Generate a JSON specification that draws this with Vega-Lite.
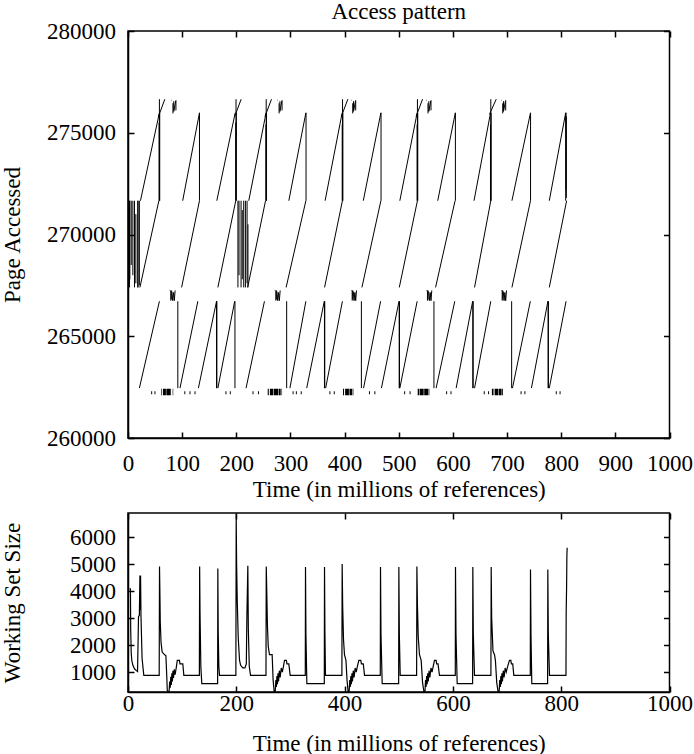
{
"$schema": "https://vega.github.io/schema/vega-lite/v6.json",
"background": "white",
"padding": {"left": 0, "right": 0, "top": 0, "bottom": 0},
"bounds": "flush",
"spacing": 75,
"config": {
 "font": "Liberation Serif",
 "view": {"stroke": "black", "strokeWidth": 1.5},
 "axis": {"domainColor": "black", "domainWidth": 1.5, "tickColor": "black", "tickWidth": 1.5, "tickSize": -6, "labelFont": "Liberation Serif", "labelFontSize": 23, "labelColor": "black", "titleFont": "Liberation Serif", "titleFontSize": 23, "titleFontWeight": "normal", "titleColor": "black", "grid": false, "labelFlush": false, "labelOverlap": false},
 "title": {"font": "Liberation Serif", "fontSize": 23, "fontWeight": "normal", "color": "black"}
},
"datasets": {
 "segs": [
{"t0":1,"p0":267400,"t1":1,"p1":271660},
{"t0":2.8,"p0":267400,"t1":2.8,"p1":271660},
{"t0":3.4,"p0":267800,"t1":3.4,"p1":271660},
{"t0":6,"p0":268500,"t1":6,"p1":271660},
{"t0":9,"p0":268000,"t1":9,"p1":271660},
{"t0":12,"p0":267400,"t1":12,"p1":271660},
{"t0":14.5,"p0":267600,"t1":14.5,"p1":271000},
{"t0":18,"p0":267400,"t1":18,"p1":271660},
{"t0":18.6,"p0":267400,"t1":18.6,"p1":271660},
{"t0":21,"p0":267500,"t1":21,"p1":271660},
{"t0":23,"p0":271660,"t1":58,"p1":275980},
{"t0":22,"p0":267400,"t1":57,"p1":271660},
{"t0":58,"p0":276650,"t1":58,"p1":271660},
{"t0":58.6,"p0":275980,"t1":58.6,"p1":271660},
{"t0":57.4,"p0":275500,"t1":57.4,"p1":271660},
{"t0":56,"p0":275780,"t1":68,"p1":276650},
{"t0":21,"p0":262450,"t1":58,"p1":266720},
{"t0":80,"p0":276600,"t1":80.8,"p1":276600},
{"t0":83,"p0":276450,"t1":83,"p1":275950},
{"t0":84.5,"p0":276550,"t1":84.5,"p1":276050},
{"t0":84.5,"p0":276050,"t1":88,"p1":276550},
{"t0":88.5,"p0":276600,"t1":88.5,"p1":276100},
{"t0":77,"p0":267250,"t1":77.8,"p1":267250},
{"t0":79,"p0":267250,"t1":79,"p1":266750},
{"t0":80,"p0":267250,"t1":80,"p1":266800},
{"t0":81,"p0":267200,"t1":82.5,"p1":266750},
{"t0":82.5,"p0":266750,"t1":84,"p1":267150},
{"t0":84,"p0":267150,"t1":85.5,"p1":266750},
{"t0":85.5,"p0":266750,"t1":87,"p1":267250},
{"t0":92,"p0":262450,"t1":92,"p1":266720},
{"t0":101,"p0":271660,"t1":132,"p1":275980},
{"t0":99,"p0":267400,"t1":132,"p1":271660},
{"t0":132,"p0":275980,"t1":132,"p1":271660},
{"t0":96,"p0":262450,"t1":129,"p1":266720},
{"t0":130,"p0":262450,"t1":163.5,"p1":266720},
{"t0":163.5,"p0":262450,"t1":163.5,"p1":266720},
{"t0":164.1,"p0":262450,"t1":164.1,"p1":266720},
{"t0":164,"p0":271660,"t1":198,"p1":275980},
{"t0":166,"p0":267400,"t1":199,"p1":271660},
{"t0":199.5,"p0":276650,"t1":199.5,"p1":271660},
{"t0":200.1,"p0":275980,"t1":200.1,"p1":271660},
{"t0":198.9,"p0":275500,"t1":198.9,"p1":271660},
{"t0":197,"p0":275800,"t1":209,"p1":276650},
{"t0":166,"p0":262450,"t1":197,"p1":266720},
{"t0":197.5,"p0":262450,"t1":197.5,"p1":266720},
{"t0":203,"p0":267400,"t1":203,"p1":271660},
{"t0":205,"p0":268000,"t1":205,"p1":271660},
{"t0":208.8,"p0":267400,"t1":208.8,"p1":271660},
{"t0":211,"p0":267800,"t1":211,"p1":271200},
{"t0":213.7,"p0":267400,"t1":213.7,"p1":271660},
{"t0":216.8,"p0":267400,"t1":216.8,"p1":271660},
{"t0":219.9,"p0":267600,"t1":219.9,"p1":271660},
{"t0":221.5,"p0":267400,"t1":221.5,"p1":270500},
{"t0":223,"p0":271660,"t1":255,"p1":275980},
{"t0":221,"p0":267400,"t1":254,"p1":271660},
{"t0":255.2,"p0":276650,"t1":255.2,"p1":271660},
{"t0":255.8,"p0":275980,"t1":255.8,"p1":271660},
{"t0":254.6,"p0":275400,"t1":254.6,"p1":271660},
{"t0":253,"p0":275800,"t1":265,"p1":276650},
{"t0":218,"p0":262450,"t1":252,"p1":266720},
{"t0":276,"p0":276600,"t1":276.8,"p1":276600},
{"t0":279,"p0":276450,"t1":279,"p1":275950},
{"t0":280.5,"p0":276550,"t1":280.5,"p1":276050},
{"t0":280.5,"p0":276050,"t1":284,"p1":276550},
{"t0":284.5,"p0":276600,"t1":284.5,"p1":276100},
{"t0":271,"p0":267250,"t1":271.8,"p1":267250},
{"t0":273,"p0":267250,"t1":273,"p1":266750},
{"t0":274,"p0":267250,"t1":274,"p1":266800},
{"t0":275,"p0":267200,"t1":276.5,"p1":266750},
{"t0":276.5,"p0":266750,"t1":278,"p1":267150},
{"t0":278,"p0":267150,"t1":279.5,"p1":266750},
{"t0":279.5,"p0":266750,"t1":281,"p1":267250},
{"t0":293,"p0":262450,"t1":293,"p1":266720},
{"t0":297,"p0":271660,"t1":328.5,"p1":275980},
{"t0":292,"p0":267400,"t1":328.5,"p1":271660},
{"t0":328.8,"p0":275980,"t1":328.8,"p1":271660},
{"t0":299,"p0":262450,"t1":328.5,"p1":266720},
{"t0":330,"p0":262450,"t1":362.5,"p1":266720},
{"t0":362.8,"p0":262450,"t1":362.8,"p1":266720},
{"t0":363.4,"p0":262450,"t1":363.4,"p1":266720},
{"t0":364,"p0":271660,"t1":395.5,"p1":275980},
{"t0":363,"p0":267400,"t1":396,"p1":271660},
{"t0":396.2,"p0":276650,"t1":396.2,"p1":271660},
{"t0":396.8,"p0":275980,"t1":396.8,"p1":271660},
{"t0":395.6,"p0":275400,"t1":395.6,"p1":271660},
{"t0":394,"p0":275800,"t1":406,"p1":276650},
{"t0":365,"p0":262450,"t1":396,"p1":266720},
{"t0":412,"p0":276600,"t1":412.8,"p1":276600},
{"t0":415,"p0":276450,"t1":415,"p1":275950},
{"t0":416.5,"p0":276550,"t1":416.5,"p1":276050},
{"t0":416.5,"p0":276050,"t1":420,"p1":276550},
{"t0":420.5,"p0":276600,"t1":420.5,"p1":276100},
{"t0":412,"p0":267250,"t1":412.8,"p1":267250},
{"t0":414,"p0":267250,"t1":414,"p1":266750},
{"t0":415,"p0":267250,"t1":415,"p1":266800},
{"t0":416,"p0":267200,"t1":417.5,"p1":266750},
{"t0":417.5,"p0":266750,"t1":419,"p1":267150},
{"t0":419,"p0":267150,"t1":420.5,"p1":266750},
{"t0":420.5,"p0":266750,"t1":422,"p1":267250},
{"t0":431,"p0":262450,"t1":431,"p1":266720},
{"t0":434.5,"p0":271660,"t1":467,"p1":275980},
{"t0":432,"p0":267400,"t1":467,"p1":271660},
{"t0":467.3,"p0":275980,"t1":467.3,"p1":271660},
{"t0":435,"p0":262450,"t1":466.5,"p1":266720},
{"t0":468,"p0":262450,"t1":500.5,"p1":266720},
{"t0":500.8,"p0":262450,"t1":500.8,"p1":266720},
{"t0":501.4,"p0":262450,"t1":501.4,"p1":266720},
{"t0":502,"p0":271660,"t1":534,"p1":275980},
{"t0":501,"p0":267400,"t1":534.5,"p1":271660},
{"t0":534.5,"p0":276650,"t1":534.5,"p1":271660},
{"t0":535.1,"p0":275980,"t1":535.1,"p1":271660},
{"t0":533.9,"p0":275400,"t1":533.9,"p1":271660},
{"t0":532,"p0":275800,"t1":544,"p1":276650},
{"t0":502,"p0":262450,"t1":534,"p1":266720},
{"t0":551,"p0":276600,"t1":551.8,"p1":276600},
{"t0":554,"p0":276450,"t1":554,"p1":275950},
{"t0":555.5,"p0":276550,"t1":555.5,"p1":276050},
{"t0":555.5,"p0":276050,"t1":559,"p1":276550},
{"t0":559.5,"p0":276600,"t1":559.5,"p1":276100},
{"t0":551,"p0":267250,"t1":551.8,"p1":267250},
{"t0":553,"p0":267250,"t1":553,"p1":266750},
{"t0":554,"p0":267250,"t1":554,"p1":266800},
{"t0":555,"p0":267200,"t1":556.5,"p1":266750},
{"t0":556.5,"p0":266750,"t1":558,"p1":267150},
{"t0":558,"p0":267150,"t1":559.5,"p1":266750},
{"t0":559.5,"p0":266750,"t1":561,"p1":267250},
{"t0":565,"p0":262450,"t1":565,"p1":266720},
{"t0":572,"p0":271660,"t1":604.5,"p1":275980},
{"t0":568,"p0":267400,"t1":604,"p1":271660},
{"t0":604.6,"p0":275980,"t1":604.6,"p1":271660},
{"t0":569,"p0":262450,"t1":603.5,"p1":266720},
{"t0":606,"p0":262450,"t1":636.5,"p1":266720},
{"t0":636.8,"p0":262450,"t1":636.8,"p1":266720},
{"t0":637.4,"p0":262450,"t1":637.4,"p1":266720},
{"t0":639,"p0":271660,"t1":669.5,"p1":275980},
{"t0":640,"p0":267400,"t1":670,"p1":271660},
{"t0":670,"p0":276650,"t1":670,"p1":271660},
{"t0":670.6,"p0":275980,"t1":670.6,"p1":271660},
{"t0":669.4,"p0":275400,"t1":669.4,"p1":271660},
{"t0":667.5,"p0":275900,"t1":680,"p1":276650},
{"t0":640,"p0":262450,"t1":670,"p1":266720},
{"t0":689,"p0":276600,"t1":689.8,"p1":276600},
{"t0":692,"p0":276450,"t1":692,"p1":275950},
{"t0":693.5,"p0":276550,"t1":693.5,"p1":276050},
{"t0":693.5,"p0":276050,"t1":697,"p1":276550},
{"t0":697.5,"p0":276600,"t1":697.5,"p1":276100},
{"t0":689,"p0":267250,"t1":689.8,"p1":267250},
{"t0":691,"p0":267250,"t1":691,"p1":266750},
{"t0":692,"p0":267250,"t1":692,"p1":266800},
{"t0":693,"p0":267200,"t1":694.5,"p1":266750},
{"t0":694.5,"p0":266750,"t1":696,"p1":267150},
{"t0":696,"p0":267150,"t1":697.5,"p1":266750},
{"t0":697.5,"p0":266750,"t1":699,"p1":267250},
{"t0":708.5,"p0":262450,"t1":708.5,"p1":266720},
{"t0":709,"p0":271660,"t1":743.3,"p1":275980},
{"t0":709,"p0":267400,"t1":743.3,"p1":271660},
{"t0":743.4,"p0":275980,"t1":743.4,"p1":271660},
{"t0":710,"p0":262450,"t1":743,"p1":266720},
{"t0":745,"p0":262450,"t1":775.5,"p1":266720},
{"t0":775.8,"p0":262450,"t1":775.8,"p1":266720},
{"t0":776.4,"p0":262450,"t1":776.4,"p1":266720},
{"t0":778,"p0":271660,"t1":808.3,"p1":275980},
{"t0":778,"p0":267400,"t1":810,"p1":271660},
{"t0":808.3,"p0":275980,"t1":808.3,"p1":271660},
{"t0":808.9,"p0":275980,"t1":808.9,"p1":272200},
{"t0":809.5,"p0":275800,"t1":809.5,"p1":271800},
{"t0":778,"p0":262450,"t1":809,"p1":266720}
 ],
 "dots": [
{"t0":42.8,"t1":44.6,"p0":262150,"p1":262300},
{"t0":48.9,"t1":50.7,"p0":262150,"p1":262300},
{"t0":104,"t1":105.8,"p0":262150,"p1":262300},
{"t0":113.6,"t1":115.4,"p0":262150,"p1":262300},
{"t0":122.8,"t1":124.6,"p0":262150,"p1":262300},
{"t0":180,"t1":181.8,"p0":262150,"p1":262300},
{"t0":188,"t1":189.8,"p0":262150,"p1":262300},
{"t0":230,"t1":231.8,"p0":262150,"p1":262300},
{"t0":240,"t1":241.8,"p0":262150,"p1":262300},
{"t0":304,"t1":305.8,"p0":262150,"p1":262300},
{"t0":310,"t1":311.8,"p0":262150,"p1":262300},
{"t0":319,"t1":320.8,"p0":262150,"p1":262300},
{"t0":372,"t1":373.8,"p0":262150,"p1":262300},
{"t0":380,"t1":381.8,"p0":262150,"p1":262300},
{"t0":445,"t1":446.8,"p0":262150,"p1":262300},
{"t0":455,"t1":456.8,"p0":262150,"p1":262300},
{"t0":510,"t1":511.8,"p0":262150,"p1":262300},
{"t0":520,"t1":521.8,"p0":262150,"p1":262300},
{"t0":587.5,"t1":589.3,"p0":262150,"p1":262300},
{"t0":595.6,"t1":597.4,"p0":262150,"p1":262300},
{"t0":657,"t1":658.8,"p0":262150,"p1":262300},
{"t0":665,"t1":666.8,"p0":262150,"p1":262300},
{"t0":725,"t1":726.8,"p0":262150,"p1":262300},
{"t0":732,"t1":733.8,"p0":262150,"p1":262300},
{"t0":790,"t1":791.8,"p0":262150,"p1":262300},
{"t0":797,"t1":798.8,"p0":262150,"p1":262300},
{"t0":61,"t1":62.2,"p0":262100,"p1":262420},
{"t0":64.5,"t1":70,"p0":262100,"p1":262420},
{"t0":70.8,"t1":79,"p0":262100,"p1":262420},
{"t0":82.5,"t1":83.5,"p0":262100,"p1":262420},
{"t0":258,"t1":260,"p0":262100,"p1":262420},
{"t0":262,"t1":268,"p0":262100,"p1":262420},
{"t0":269,"t1":277,"p0":262100,"p1":262420},
{"t0":278,"t1":282,"p0":262100,"p1":262420},
{"t0":283.5,"t1":284.5,"p0":262100,"p1":262420},
{"t0":397,"t1":399,"p0":262100,"p1":262420},
{"t0":401,"t1":408,"p0":262100,"p1":262420},
{"t0":409,"t1":414,"p0":262100,"p1":262420},
{"t0":415,"t1":416.2,"p0":262100,"p1":262420},
{"t0":535,"t1":538,"p0":262100,"p1":262420},
{"t0":539,"t1":546,"p0":262100,"p1":262420},
{"t0":547,"t1":554,"p0":262100,"p1":262420},
{"t0":555,"t1":556.5,"p0":262100,"p1":262420},
{"t0":672,"t1":675,"p0":262100,"p1":262420},
{"t0":677,"t1":684,"p0":262100,"p1":262420},
{"t0":685,"t1":690,"p0":262100,"p1":262420},
{"t0":691,"t1":692.5,"p0":262100,"p1":262420}
 ],
 "ws": [
{"t":2.8,"ws":4080},{"t":4.5,"ws":4080},{"t":5.0,"ws":2540},{"t":6.0,"ws":1700},{"t":7.0,"ws":1430},{"t":9,"ws":1250},{"t":12,"ws":1120},{"t":15,"ws":1060},{"t":17.6,"ws":1020},{"t":18.5,"ws":2000},{"t":19.4,"ws":3050},{"t":21,"ws":3100},{"t":22,"ws":4578},{"t":22.6,"ws":3300},{"t":23.2,"ws":4578},{"t":24,"ws":3050},{"t":26,"ws":1500},{"t":29.2,"ws":875},
{"t":57.6,"ws":875},{"t":58.2,"ws":4911},{"t":58.8,"ws":4085},{"t":59.6,"ws":2850},{"t":61,"ws":2100},{"t":63,"ws":1750},{"t":66,"ws":1670},{"t":70,"ws":1600},{"t":71.5,"ws":900},{"t":72.5,"ws":320},{"t":74,"ws":270},{"t":76,"ws":300},{"t":77,"ws":650},{"t":78,"ws":420},{"t":79,"ws":820},{"t":80,"ws":520},{"t":81,"ws":950},{"t":82,"ws":650},{"t":83,"ws":1050},{"t":84,"ws":780},{"t":85.5,"ws":1100},{"t":87,"ws":900},{"t":89,"ws":1150},{"t":91,"ws":1430},{"t":95,"ws":1430},{"t":96,"ws":1300},{"t":101.2,"ws":1300},{"t":103.1,"ws":875},
{"t":131.8,"ws":875},{"t":132.3,"ws":4911},{"t":133,"ws":3200},{"t":134.5,"ws":1200},{"t":136.3,"ws":567},{"t":165.5,"ws":567},{"t":165.9,"ws":4830},{"t":166.6,"ws":2500},{"t":167.8,"ws":1200},{"t":169,"ws":875},
{"t":199.2,"ws":875},{"t":199.8,"ws":6862},{"t":200.6,"ws":5000},{"t":201.8,"ws":3600},{"t":203.5,"ws":2300},{"t":206,"ws":1430},{"t":208,"ws":1250},{"t":212,"ws":1150},{"t":216,"ws":1150},{"t":218.5,"ws":1300},{"t":219.5,"ws":3000},{"t":221.3,"ws":4940},{"t":222.2,"ws":2600},{"t":224,"ws":1200},{"t":226.3,"ws":875},
{"t":254.8,"ws":875},{"t":255.3,"ws":4911},{"t":256.2,"ws":4085},{"t":257.5,"ws":2700},{"t":259,"ws":1950},{"t":261.3,"ws":1641},{"t":266.2,"ws":1641},{"t":268,"ws":700},{"t":270,"ws":270},{"t":272,"ws":300},{"t":273,"ws":700},{"t":274,"ws":450},{"t":275,"ws":850},{"t":276,"ws":550},{"t":277,"ws":950},{"t":278,"ws":650},{"t":279.5,"ws":1050},{"t":281,"ws":800},{"t":283,"ws":1150},{"t":285,"ws":1000},{"t":287,"ws":1200},{"t":289,"ws":1430},{"t":292.5,"ws":1430},{"t":293.5,"ws":1300},{"t":297,"ws":1300},{"t":299.5,"ws":875},
{"t":327.4,"ws":875},{"t":327.8,"ws":4890},{"t":328.6,"ws":2400},{"t":330.3,"ws":567},{"t":362.5,"ws":567},{"t":362.9,"ws":4890},{"t":363.7,"ws":2400},{"t":364.7,"ws":875},
{"t":395.0,"ws":875},{"t":395.5,"ws":5000},{"t":396.5,"ws":3408},{"t":398,"ws":2200},{"t":399.8,"ws":1641},{"t":402.5,"ws":1430},{"t":404.5,"ws":700},{"t":406.5,"ws":270},{"t":408.5,"ws":300},{"t":409.5,"ws":700},{"t":410.5,"ws":450},{"t":411.5,"ws":850},{"t":412.5,"ws":550},{"t":413.5,"ws":950},{"t":414.5,"ws":650},{"t":416,"ws":1050},{"t":417.5,"ws":800},{"t":419.5,"ws":1150},{"t":421.5,"ws":1000},{"t":423.5,"ws":1200},{"t":426.3,"ws":1430},{"t":430,"ws":1430},{"t":431,"ws":1300},{"t":434.5,"ws":1300},{"t":436.8,"ws":875},
{"t":465.9,"ws":875},{"t":466.3,"ws":4890},{"t":467.2,"ws":2400},{"t":469.4,"ws":567},{"t":499.8,"ws":567},{"t":500.2,"ws":4890},{"t":501.1,"ws":2400},{"t":502.7,"ws":875},
{"t":533.0,"ws":875},{"t":533.5,"ws":4911},{"t":534.5,"ws":3500},{"t":536,"ws":2300},{"t":538.3,"ws":1641},{"t":541.4,"ws":1430},{"t":544,"ws":600},{"t":546.5,"ws":270},{"t":548.5,"ws":300},{"t":549.5,"ws":700},{"t":550.5,"ws":450},{"t":551.5,"ws":850},{"t":552.5,"ws":550},{"t":553.5,"ws":950},{"t":554.5,"ws":650},{"t":556,"ws":1050},{"t":557.5,"ws":800},{"t":559.5,"ws":1150},{"t":561.5,"ws":1000},{"t":563.5,"ws":1200},{"t":566,"ws":1430},{"t":569,"ws":1430},{"t":570,"ws":1300},{"t":572.5,"ws":1300},{"t":575.2,"ws":875},
{"t":604.4,"ws":875},{"t":604.8,"ws":4890},{"t":605.7,"ws":2400},{"t":607.9,"ws":567},{"t":636.4,"ws":567},{"t":636.8,"ws":4890},{"t":637.7,"ws":2400},{"t":639.9,"ws":875},
{"t":670.2,"ws":875},{"t":670.7,"ws":4890},{"t":671.6,"ws":3000},{"t":674,"ws":1780},{"t":676.8,"ws":1641},{"t":678.5,"ws":1430},{"t":681,"ws":600},{"t":683.5,"ws":270},{"t":685.5,"ws":300},{"t":686.5,"ws":700},{"t":687.5,"ws":450},{"t":688.5,"ws":850},{"t":689.5,"ws":550},{"t":690.5,"ws":950},{"t":691.5,"ws":650},{"t":693,"ws":1050},{"t":694.5,"ws":800},{"t":696.5,"ws":1150},{"t":698.5,"ws":1000},{"t":701,"ws":1200},{"t":704.5,"ws":1430},{"t":707,"ws":1430},{"t":708,"ws":1300},{"t":710.5,"ws":1300},{"t":712.5,"ws":875},
{"t":742.9,"ws":875},{"t":743.3,"ws":4800},{"t":744.2,"ws":2400},{"t":745.7,"ws":567},{"t":774.9,"ws":567},{"t":775.3,"ws":4800},{"t":776.2,"ws":2400},{"t":778.4,"ws":875},
{"t":808.8,"ws":875},{"t":809.2,"ws":3200},{"t":810,"ws":4200},{"t":810.5,"ws":5300},{"t":811,"ws":5600}
 ]
},
"vconcat": [
 {
  "width": 541.5,
  "height": 407,
  "title": {"text": "Access pattern", "frame": "group", "anchor": "middle", "offset": -27, "baseline": "bottom"},
  "layer": [
   {
    "data": {"name": "segs"},
    "mark": {"type": "rule", "color": "black", "strokeWidth": 1, "clip": true},
    "encoding": {
     "x": {"field": "t0", "type": "quantitative", "scale": {"domain": [0, 1000], "nice": false}, "axis": {"values": [0,100,200,300,400,500,600,700,800,900,1000], "format": "d", "title": "Time (in millions of references)", "labelPadding": 20, "titlePadding": 3}},
     "x2": {"field": "t1"},
     "y": {"field": "p0", "type": "quantitative", "scale": {"domain": [260000, 280000], "nice": false, "zero": false}, "axis": {"values": [260000,265000,270000,275000,280000], "format": "d", "title": "Page Accessed", "labelPadding": 18.5, "titlePadding": 22}},
     "y2": {"field": "p1"}
    }
   },
   {
    "data": {"name": "dots"},
    "mark": {"type": "rect", "color": "black", "clip": true},
    "encoding": {
     "x": {"field": "t0", "type": "quantitative", "axis": null},
     "x2": {"field": "t1"},
     "y": {"field": "p0", "type": "quantitative", "axis": null},
     "y2": {"field": "p1"}
    }
   },
   {
    "data": {"name": "segs"},
    "mark": {"type": "point", "opacity": 0},
    "encoding": {
     "x": {"field": "t0", "type": "quantitative", "axis": {"orient": "top", "labels": false, "title": null, "domain": false, "values": [0,100,200,300,400,500,600,700,800,900,1000]}},
     "y": {"field": "p0", "type": "quantitative", "axis": {"orient": "right", "labels": false, "title": null, "domain": false, "values": [260000,265000,270000,275000,280000]}}
    }
   }
  ],
  "resolve": {"axis": {"x": "independent", "y": "independent"}}
 },
 {
  "width": 541.5,
  "height": 179,
  "layer": [
   {
    "data": {"name": "ws"},
    "mark": {"type": "line", "color": "black", "strokeWidth": 1.2, "clip": true},
    "encoding": {
     "x": {"field": "t", "type": "quantitative", "scale": {"domain": [0, 1000], "nice": false}, "axis": {"values": [0,200,400,600,800,1000], "format": "d", "title": "Time (in millions of references)", "labelPadding": 6, "titlePadding": 17}},
     "y": {"field": "ws", "type": "quantitative", "scale": {"domain": [260, 6890], "nice": false, "zero": false}, "axis": {"values": [1000,2000,3000,4000,5000,6000], "format": "d", "title": "Working Set Size", "labelPadding": 18.5, "titlePadding": 45.5}}
    }
   },
   {
    "data": {"name": "ws"},
    "mark": {"type": "point", "opacity": 0},
    "encoding": {
     "x": {"field": "t", "type": "quantitative", "axis": {"orient": "top", "labels": false, "title": null, "domain": false, "values": [0,200,400,600,800,1000]}},
     "y": {"field": "ws", "type": "quantitative", "axis": {"orient": "right", "labels": false, "title": null, "domain": false, "values": [1000,2000,3000,4000,5000,6000]}}
    }
   }
  ],
  "resolve": {"axis": {"x": "independent", "y": "independent"}}
 }
]
}
